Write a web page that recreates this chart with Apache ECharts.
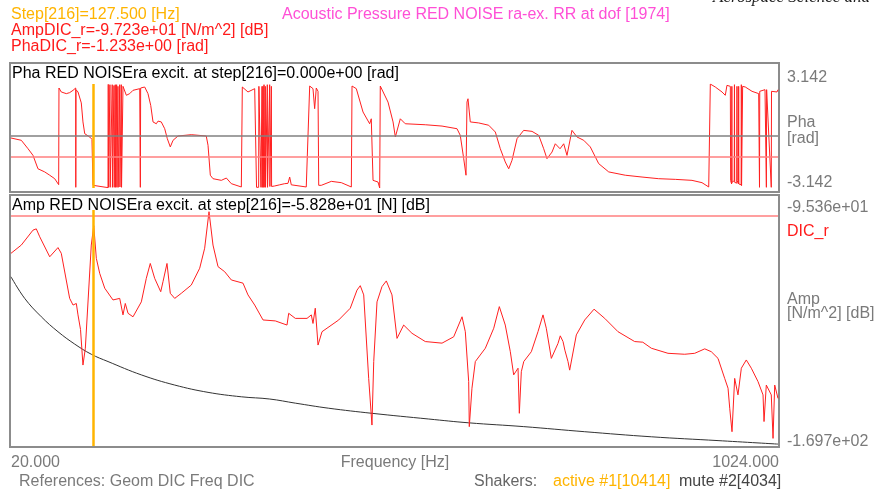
<!DOCTYPE html>
<html>
<head>
<meta charset="utf-8">
<script src="https://cdn.jsdelivr.net/npm/echarts@6/dist/echarts.min.js"></script>
<style>
html,body{margin:0;padding:0;background:#fff;}
#chart{width:874px;height:496px;}
</style>
</head>
<body>
<div id="chart"></div>
<script>
// frequency axis [Hz]
var freqRange = [20, 1024];
var stepFreq = 127.5;

// amplitude DIC_r [dB]
var ampRange = [-169.7, -95.36];
var ampDicR = -97.23;
var ampFreq = [20,33.5,48.8,53.1,57.6,70.7,72.8,81.5,85.8,96.8,101.2,105.5,107.7,111,114.2,117.3,125.1,128.3,131.7,136.1,142.7,
  153.5,162.3,166.6,169.6,173.2,179.7,190.6,197.1,202.3,208.1,216,219,224.2,228.5,234.3,242.9,256,267,273.5,279.2,284.4,
  291,299.7,308.4,323.7,330.2,339,349.9,366,381.3,383.5,392.2,407.5,413.1,415.3,418.3,421.9,427.1,449,464.1,472.9,477.2,
  481.7,488.2,492.5,494.8,499.1,505.6,511.3,518.7,525.3,534,544.9,562.3,584.2,599.5,610.4,614.7,619.1,619.9,623.4,627.8,
  640.9,651.9,659.2,667,673.6,678,683.7,685.4,688,691.2,701.1,709.8,716.4,720.7,727.3,736,739,742.6,745,749.1,751.3,760,
  771,783.2,797.2,814.6,836.4,847,858.2,880,901.9,915,928.1,936.7,945.5,954.2,958.6,960.8,963.8,967.3,971.6,976,982.5,
  989.1,997.8,1004.4,1005.7,1008.7,1015.2,1017.5,1019.7,1024];
var ampDb = [-109,-106.4,-101.7,-101.3,-103.8,-110.1,-109.5,-107.2,-109,-123.2,-125.3,-124.8,-128.4,-133,-144.2,-138.9,-106.4,-100.3,-110.6,-115.3,-120,
  -123.7,-123.2,-128.4,-124.8,-127.9,-129,-124.3,-116.9,-112.2,-116.9,-121.1,-117.9,-112.2,-121.6,-123.2,-121.6,-119,-113.7,-107.4,-95.9,-106.4,
  -113.2,-114.8,-117.4,-118.4,-122.1,-125.3,-130,-130.3,-131.6,-127.9,-129.5,-129.5,-128.4,-131.1,-126.3,-137.9,-133.7,-130,-126.3,-120.6,-119.2,
  -122.1,-148.4,-163.1,-143.1,-124.3,-119.5,-117.7,-122.1,-135.8,-131.6,-134.2,-136.8,-137.3,-135.3,-129,-133.7,-149.4,-163.6,-151.5,-143.1,
  -138.9,-132.6,-125.8,-131.6,-140,-147.3,-145.2,-159.4,-146.3,-143.1,-140,-133.7,-128.4,-132.6,-142.1,-137.4,-135,-136.8,-139.5,-143.1,-145.8,-134.7,
  -130,-126.6,-129.5,-133.7,-136.8,-137,-138.9,-140.5,-140.8,-140.5,-139.1,-140,-142.1,-148.4,-151.5,-157.8,-165.2,-148.4,-153.6,-145.2,-142.6,
  -145.2,-149.4,-153.6,-162,-150.5,-153.6,-167.3,-150.5,-154.7];

// black reference curve [dB]
var refFreq = [20,37.9,59.7,81.5,103.4,125.1,147,190.6,234.3,277.9,321.5,358.6,392.2,435.9,492.5,566.8,619.1,691.2,771,858.2,945.5,1024];
var refDb = [-116.4,-123.2,-129,-133.7,-137.6,-140.8,-143.1,-147.3,-150.5,-152.8,-154.2,-154.9,-156.2,-157.8,-159.4,-161.2,-162.4,-163.6,-165.2,-166.8,-168,-169.1];

// phase DIC_r [rad]
var phaRange = [-3.142, 3.142];
var phaDicR = -1.233;
var phaFreq = [20,33.5,42.3,48.8,55.3,64.1,70.7,72.8,77.2,82.4,82.8,85.8,92.4,96.8,101.2,104.7,104.8,105.1,107.7,110,112,114.2,116.5,123,126,127.3,128.6,
  147,147.3,147.6,149.2,149.5,149.8,152.2,152.5,152.8,154.8,155.1,156.5,156.8,158.3,158.6,160,160.3,162.3,162.6,164.4,164.7,166.6,
  171,175.4,179.7,188.5,189.3,189.7,195,199.3,202.9,205.9,210.2,212.5,216.7,221.2,224.6,228.5,232.1,238.6,256,275.6,277.9,280.9,284.4,295.3,
  301.9,308.4,321.5,322.8,330.2,339,341.1,341.4,344.2,344.5,346.9,347.2,348.6,348.9,349.9,350.2,351.2,351.5,352.9,353.2,355.5,355.8,
  358.6,358.9,360.8,361.1,365.2,371.7,378.3,382.6,384.8,386.9,406.5,411,415.3,417.5,419.6,421.9,422.8,426.2,439.3,452.4,465.5,466.4,
  472,480.8,489.5,491.6,493.9,500.4,502.6,503.4,513.5,520.1,523.1,529.6,536.1,562.3,584.2,603.8,608.1,612.6,615.6,616.9,618.2,621.2,
  632.2,645.3,654,660.5,667,671.5,675.8,682.4,691.1,702,710.8,717.3,721.6,728.2,732.5,738.7,743.5,747.8,754.3,760.9,769.7,778.3,
  789.3,802.4,824.1,846,867.8,889.6,911.4,924.5,933.3,935.4,941.9,950.7,955,957.2,961.6,962,963.3,963.6,963.9,966.7,967,967.3,
  970,970.3,970.6,972.2,972.5,972.8,975.7,976,976.3,977.4,977.7,980,981.2,990,998.7,999.8,1000.1,1007,1008.8,1009.1,1015.2,1015.5,
  1022.7,1024];
var phaRad = [-0.12,-0.26,-0.77,-1.17,-1.98,-2.17,-2.37,-2.3,-2.58,-2.94,2.9,2.66,2.56,2.62,2.76,2.9,-3.1,2.8,2.66,2.68,2,0.85,0.14,-0.06,-0.2,-2.98,-3.08,
  -3.12,3.12,-3.1,-3.1,3.1,-3.1,-3.12,3.1,-3.1,3.05,-3.1,3.1,-3.1,3.1,-3.1,3,-3.1,3.1,-3.08,3.1,-3.1,3,
  2.46,2.56,2.76,2.86,-3.1,2.9,2.96,2.56,1.85,0.85,0.74,0.9,0.85,0.44,-0.16,-0.66,-0.26,0,0.08,0,-0.56,-2.37,-2.58,-2.68,
  -2.54,-2.88,-3.08,2.96,2.66,2.86,2.9,-3.1,-3.1,3,2.9,-3.1,3,-3.1,3,-3.1,3.1,-3.1,3,-3.1,3.1,-3.1,
  3.1,-3.05,3,-3.05,-3.02,-2.95,-2.88,-2.86,-2.48,-2.95,-3.08,3.02,2.86,1.65,2.9,2.7,-2.98,-2.98,-2.74,-2.82,-3.08,3.02,
  2.86,1.45,0.74,1.04,-2.68,-2.78,-3.14,3.02,2.05,0.85,-0.06,1.04,0.74,0.68,0.6,0.44,0.04,-1.37,-2.37,2.05,2.25,0.85,
  0.79,0.65,0.24,-0.77,-1.57,-1.98,-1.47,-0.16,0.34,0.28,0.04,-0.77,-1.37,-0.97,-0.47,-0.77,-0.47,-1.17,0.34,-0.06,-0.26,-0.66,
  -1.67,-2.17,-2.37,-2.48,-2.58,-2.62,-2.68,-2.82,-3.08,3.14,2.96,2.66,2.46,3.06,3,-2.7,-2.9,3,-2.8,-2.7,3.1,-2.8,
  -2.85,3,-2.7,-2.9,3,-2.9,-2.95,3.1,-3,-3,3,3.05,2.96,2.7,2.56,-3.1,2.7,2.8,-3.1,2.8,-3.1,2.7,
  2.66,2.8];

function zip(xs, ys) {
  return xs.map(function (x, i) { return [x, ys[i]]; });
}

var FONT = '"Liberation Sans", Arial, Helvetica, sans-serif';
var GRAY = '#7a7a7a';
var RED = '#ff1a1a';
var YELLOW = '#ffb400';

function txt(s, x, y, color, align, size) {
  return {
    type: 'text', z: 100, silent: true,
    style: {
      text: s, x: x, y: y, fill: color,
      font: (size || 16) + 'px ' + FONT,
      textAlign: align || 'left', textVerticalAlign: 'middle'
    }
  };
}

var myChart = echarts.init(document.getElementById('chart'));

var option = {
  animation: false,
  backgroundColor: '#fff',
  grid: [
    {left: 11, right: 96, top: 84, height: 104},
    {left: 11, right: 96, top: 210, height: 236}
  ],
  xAxis: [
    {type: 'value', gridIndex: 0, min: freqRange[0], max: freqRange[1], show: false},
    {type: 'value', gridIndex: 1, min: freqRange[0], max: freqRange[1], show: false}
  ],
  yAxis: [
    {type: 'value', gridIndex: 0, min: phaRange[0], max: phaRange[1], show: false},
    {type: 'value', gridIndex: 1, min: ampRange[0], max: ampRange[1], show: false}
  ],
  series: [
    {
      name: 'Pha', type: 'line', xAxisIndex: 0, yAxisIndex: 0,
      data: zip(phaFreq, phaRad), showSymbol: false,
      lineStyle: {color: '#ff2020', width: 1},
      markLine: {
        silent: true, symbol: 'none', label: {show: false},
        data: [
          {yAxis: 0, lineStyle: {color: '#808080', width: 1.5, type: 'solid'}},
          {yAxis: phaDicR, lineStyle: {color: '#ff7f7f', width: 1.5, type: 'solid'}},
          {xAxis: stepFreq, lineStyle: {color: YELLOW, width: 2.5, type: 'solid'}}
        ]
      }
    },
    {
      name: 'Ref', type: 'line', xAxisIndex: 1, yAxisIndex: 1,
      data: zip(refFreq, refDb), showSymbol: false, smooth: 0.4,
      lineStyle: {color: '#333', width: 1}
    },
    {
      name: 'Amp', type: 'line', xAxisIndex: 1, yAxisIndex: 1,
      data: zip(ampFreq, ampDb), showSymbol: false,
      lineStyle: {color: '#ff2020', width: 1},
      markLine: {
        silent: true, symbol: 'none', label: {show: false},
        data: [
          {yAxis: ampDicR, lineStyle: {color: '#ff7f7f', width: 1.5, type: 'solid'}},
          {xAxis: stepFreq, lineStyle: {color: YELLOW, width: 2.5, type: 'solid'}}
        ]
      }
    }
  ],
  graphic: [
    {type: 'rect', silent: true, shape: {x: 10, y: 63, width: 769, height: 129},
      style: {fill: 'none', stroke: '#8c8c8c', lineWidth: 2}},
    {type: 'rect', silent: true, shape: {x: 10, y: 195, width: 769, height: 252},
      style: {fill: 'none', stroke: '#8c8c8c', lineWidth: 2}},

    txt('Step[216]=127.500 [Hz]', 11, 15, YELLOW),
    txt('AmpDIC_r=-9.723e+01 [N/m^2] [dB]', 11, 31, RED),
    txt('PhaDIC_r=-1.233e+00 [rad]', 11, 47, RED),
    txt('Acoustic Pressure RED NOISE ra-ex. RR at dof [1974]', 282, 15, '#ff4fd6'),
    {type: 'text', z: 100, silent: true,
      style: {text: 'Aerospace Science and', x: 713, y: -2, fill: '#222',
        font: 'italic 17px "Liberation Serif", "DejaVu Serif", serif',
        textAlign: 'left', textVerticalAlign: 'middle'}},

    txt('Pha RED NOISEra excit. at step[216]=0.000e+00 [rad]', 12, 74, '#000'),
    txt('Amp RED NOISEra excit. at step[216]=-5.828e+01 [N] [dB]', 12, 206, '#000'),

    txt('3.142', 787, 78, GRAY),
    txt('Pha', 787, 123, GRAY),
    txt('[rad]', 787, 139, GRAY),
    txt('-3.142', 787, 183, GRAY),
    txt('-9.536e+01', 787, 208, GRAY),
    txt('DIC_r', 787, 232, RED),
    txt('Amp', 787, 300, GRAY),
    txt('[N/m^2] [dB]', 787, 314, GRAY),
    txt('-1.697e+02', 787, 442, GRAY),

    txt('20.000', 11, 463, GRAY),
    txt('Frequency [Hz]', 395, 463, GRAY, 'center'),
    txt('1024.000', 779, 463, GRAY, 'right'),
    txt('References: Geom DIC Freq DIC', 19, 482, GRAY),
    txt('Shakers:', 474, 482, '#666'),
    txt('active #1[10414]', 553, 482, YELLOW),
    txt('mute #2[4034]', 679, 482, '#444')
  ]
};

myChart.setOption(option);
window.addEventListener('resize', function () {
  myChart.resize();
});
</script>
</body>
</html>
